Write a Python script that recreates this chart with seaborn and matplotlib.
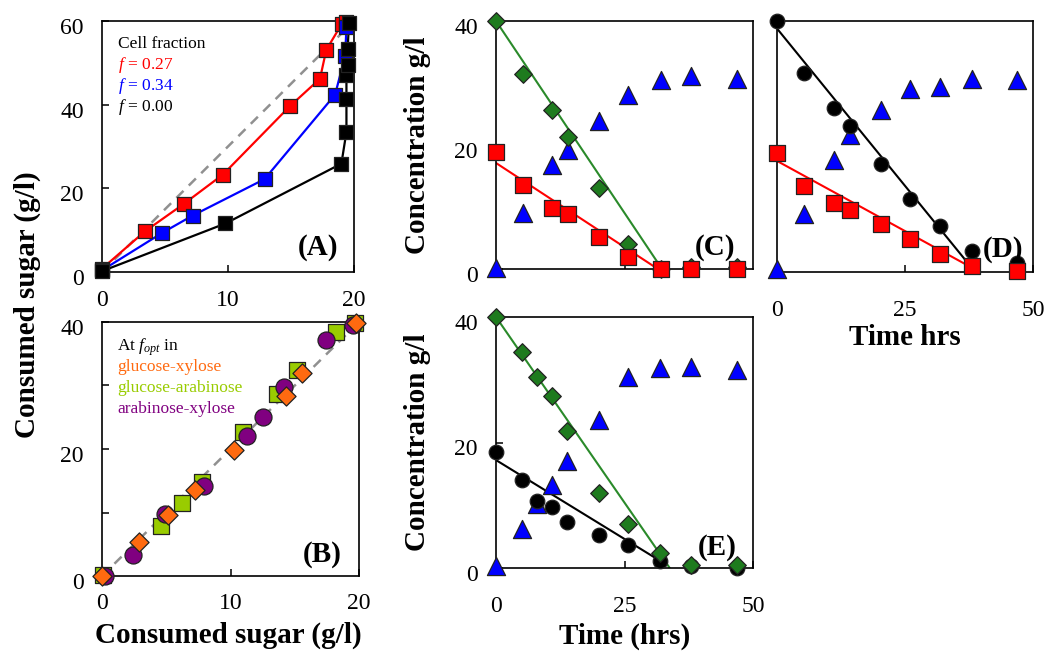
import pandas as pd
import matplotlib.pyplot as plt
import matplotlib.transforms as mtransforms
import seaborn as sns

# Panel A: consumed sugar at different cell fractions
a_red_x = [0, 3.4, 6.5, 9.6, 14.9, 17.3, 17.8, 19.05, 19.4]
a_red_y = [0.8, 9.7, 16.3, 23.3, 39.6, 46.2, 53.1, 59.4, 59.8]
a_blue_x = [0, 4.8, 7.2, 12.9, 18.5, 19.3, 19.4]
a_blue_y = [0.4, 9.4, 13.5, 22.2, 42.4, 51.7, 58.5]
a_black_x = [0, 9.8, 19.0, 19.4, 19.4, 19.4, 19.5, 19.5, 19.6]
a_black_y = [0.2, 11.6, 25.9, 33.5, 41.3, 47.0, 49.4, 53.4, 59.6]
a_diag_x = [0, 19]
a_diag_y = [0, 57]

# Panel B: at f_opt in the three sugar pairs
b_gx_x = [0, 2.9, 5.1, 7.2, 10.3, 14.3, 15.6, 19.8]
b_gx_y = [0, 5.4, 9.6, 13.5, 19.8, 28.3, 31.9, 39.8]
b_ga_x = [0.1, 4.6, 6.2, 7.8, 11.0, 13.6, 15.2, 18.2, 19.7]
b_ga_y = [0.1, 7.8, 11.5, 14.8, 22.7, 28.6, 32.5, 38.4, 39.8]
b_ax_x = [0.2, 2.4, 4.9, 7.9, 11.3, 12.5, 14.2, 17.4, 19.5]
b_ax_y = [0, 3.3, 9.7, 14.1, 22.1, 25.1, 29.7, 37.2, 39.6]
b_diag_x = [0, 20]
b_diag_y = [0, 40]

# Time courses (hrs)
t_c = [0, 5.2, 10.9, 14.0, 20.1, 25.6, 32.1, 38.0, 46.9]
c_green = [40, 31.5, 25.6, 21.3, 13.0, 4.0, 0, 0.4, 0.4]
c_red = [18.8, 13.5, 9.8, 8.9, 5.1, 1.9, 0, 0, 0]
c_blue = [0.2, 9.0, 16.7, 19.2, 23.9, 28.0, 30.5, 31.1, 30.7]
c_green_fit = ([0, 32.3], [40, 0])
c_red_fit = ([0, 31.5], [17.1, 0])

t_d = [0, 5.3, 11.1, 14.2, 20.3, 25.9, 31.9, 38.1, 46.8]
d_black = [40, 31.7, 26.2, 23.3, 17.2, 11.6, 7.3, 3.3, 1.4]
d_red = [18.9, 13.7, 11.0, 9.9, 7.7, 5.3, 2.9, 0.9, 0.1]
d_blue = [0.4, 9.2, 17.8, 21.8, 25.8, 29.2, 29.5, 30.7, 30.6]
d_black_fit = ([0, 37.5], [38.8, 1.2])
d_red_fit = ([0, 37.8], [17.7, 0.8])

t_e = [0, 5.1, 8.0, 10.8, 13.8, 20.1, 25.6, 32.0, 38.0, 46.9]
e_green = [40, 34.5, 30.4, 27.4, 21.8, 12.0, 7.0, 2.4, 0.4, 0.4]
e_black = [18.5, 14.0, 10.6, 9.7, 7.4, 5.3, 3.7, 1.1, 0.3, 0]
e_blue = [0.3, 6.2, 10.2, 13.3, 17.0, 23.6, 30.5, 31.8, 32.0, 31.6]
e_green_fit = ([0, 33.8], [40, 0])
e_black_fit = ([0, 32.6], [17.2, 0.8])

RED, BLUE, BLACK = "#FF0000", "#0000FF", "#000000"
GREEN, GREEN_LINE = "#1E7B1E", "#2A8A2A"
ORANGE, LIME, PURPLE = "#FF6A10", "#99CC00", "#800080"
EDGE = "#222222"

sns.set_style("ticks")
plt.rcParams["font.family"] = ["Liberation Serif", "DejaVu Serif"]
plt.rcParams["mathtext.fontset"] = "custom"
plt.rcParams["mathtext.rm"] = "Liberation Serif"
plt.rcParams["mathtext.it"] = "Liberation Serif:italic"
plt.rcParams["axes.linewidth"] = 1.2
plt.rcParams["text.color"] = "black"
plt.rcParams["axes.labelcolor"] = "black"
plt.rcParams["xtick.color"] = "black"
plt.rcParams["ytick.color"] = "black"

fig = plt.figure(figsize=(10.5, 6.62), dpi=100)
W, H = 1050, 662
shift_down = mtransforms.ScaledTranslation(0, -5 / 100, fig.dpi_scale_trans)


def make_ax(left, top, right, bottom):
    return fig.add_axes([left / W, 1 - bottom / H, (right - left) / W, (bottom - top) / H])


def style(ax, xpad=15):
    ax.tick_params(direction="in", length=5, width=1.1, labelsize=17, colors="black")
    ax.tick_params(axis="y", pad=13)
    ax.tick_params(axis="x", pad=xpad)
    for s in ax.spines.values():
        s.set_color("black")
        s.set_visible(True)
    for lab in ax.get_yticklabels():
        lab.set_transform(lab.get_transform() + shift_down)


def line(ax, x, y, color, lw=1.6, ls="-"):
    sns.lineplot(x=x, y=y, ax=ax, color=color, linewidth=lw, linestyle=ls,
                 estimator=None, sort=False, legend=False)


def pts(ax, x, y, color, marker, size, z=3):
    sns.scatterplot(x=x, y=y, ax=ax, color=color, marker=marker, s=size,
                    edgecolor=EDGE, linewidth=0.9, legend=False, zorder=z, clip_on=False)


# ---- Panel A
axA = make_ax(102, 21, 354, 272)
line(axA, a_diag_x, a_diag_y, "#909090", lw=1.8, ls=(0, (4, 3)))
line(axA, a_black_x, a_black_y, BLACK)
line(axA, a_blue_x, a_blue_y, BLUE)
line(axA, a_red_x, a_red_y, RED)
pts(axA, a_red_x, a_red_y, RED, "s", 95)
pts(axA, a_blue_x, a_blue_y, BLUE, "s", 95)
pts(axA, a_black_x, a_black_y, BLACK, "s", 95)
axA.set(xlim=(0, 20), ylim=(0, 60), xticks=[0, 10, 20], yticks=[0, 20, 40, 60])
style(axA, xpad=13)
axA.set_xlabel("")
axA.set_ylabel("")
axA.text(0.063, 0.908, "Cell fraction", transform=axA.transAxes, fontsize=12.5, va="center")
axA.text(0.063, 0.825, "$f$ = 0.27", transform=axA.transAxes, fontsize=12.5, va="center", color=RED)
axA.text(0.063, 0.741, "$f$ = 0.34", transform=axA.transAxes, fontsize=12.5, va="center", color=BLUE)
axA.text(0.063, 0.657, "$f$ = 0.00", transform=axA.transAxes, fontsize=12.5, va="center", color=BLACK)
axA.text(0.857, 0.096, "(A)", transform=axA.transAxes, fontsize=21, weight="bold", ha="center", va="center")

# ---- Panel B
axB = make_ax(102, 322, 359, 576)
line(axB, b_diag_x, b_diag_y, "#909090", lw=1.8, ls=(0, (4, 3)))
pts(axB, b_ga_x, b_ga_y, LIME, "s", 130)
pts(axB, b_ax_x, b_ax_y, PURPLE, "o", 150)
pts(axB, b_gx_x, b_gx_y, ORANGE, "D", 95)
axB.set(xlim=(0, 20), ylim=(0, 40), xticks=[0, 10, 20], yticks=[0, 20, 40])
axB.set_yticks([10, 30], minor=True)
style(axB, xpad=12)
axB.tick_params(which="minor", direction="in", length=5, width=1.1)
axB.set_xlabel("")
axB.set_ylabel("")
axB.text(0.058, 0.90, "At $f_{opt}$ in", transform=axB.transAxes, fontsize=12.5, va="center")
axB.text(0.058, 0.822, "glucose-xylose", transform=axB.transAxes, fontsize=12.5, va="center", color=ORANGE)
axB.text(0.058, 0.74, "glucose-arabinose", transform=axB.transAxes, fontsize=12.5, va="center", color=LIME)
axB.text(0.058, 0.657, "arabinose-xylose", transform=axB.transAxes, fontsize=12.5, va="center", color=PURPLE)
axB.text(0.856, 0.083, "(B)", transform=axB.transAxes, fontsize=21, weight="bold", ha="center", va="center")

fig.text(27 / W, 1 - 305 / H, "Consumed sugar (g/l)", rotation=90, fontsize=21,
         weight="bold", ha="center", va="center")
fig.text(228 / W, 1 - 635 / H, "Consumed sugar (g/l)", fontsize=21,
         weight="bold", ha="center", va="center")

# ---- Panel C
axC = make_ax(496, 21, 753, 269)
line(axC, *c_green_fit, GREEN_LINE, lw=1.5)
line(axC, *c_red_fit, RED, lw=1.5)
pts(axC, t_c, c_blue, BLUE, "^", 170)
pts(axC, t_c, c_green, GREEN, "D", 80)
pts(axC, t_c, c_red, RED, "s", 120)
axC.set(xlim=(0, 50), ylim=(0, 40), xticks=[25], yticks=[0, 20, 40])
style(axC)
axC.set_xticklabels([])
axC.set_xlabel("")
axC.set_ylabel("Concentration g/l", fontsize=21, weight="bold", labelpad=17)
axC.text(0.852, 0.085, "(C)", transform=axC.transAxes, fontsize=21, weight="bold", ha="center", va="center")

# ---- Panel D
axD = make_ax(777, 21, 1033, 272)
line(axD, *d_black_fit, BLACK, lw=1.5)
line(axD, *d_red_fit, RED, lw=1.5)
pts(axD, t_d, d_blue, BLUE, "^", 170)
pts(axD, t_d, d_black, BLACK, "o", 110)
pts(axD, t_d, d_red, RED, "s", 120)
axD.set(xlim=(0, 50), ylim=(0, 40), xticks=[0, 25, 50], yticks=[])
style(axD, xpad=20)
axD.set_xlabel("Time hrs", fontsize=21, weight="bold", labelpad=2)
axD.set_ylabel("")
axD.text(0.883, 0.088, "(D)", transform=axD.transAxes, fontsize=21, weight="bold", ha="center", va="center")

# ---- Panel E
axE = make_ax(496, 317, 753, 568)
line(axE, *e_green_fit, GREEN_LINE, lw=1.5)
line(axE, *e_black_fit, BLACK, lw=1.5)
pts(axE, t_e, e_blue, BLUE, "^", 170)
pts(axE, t_e, e_black, BLACK, "o", 110)
pts(axE, t_e, e_green, GREEN, "D", 80)
axE.set(xlim=(0, 50), ylim=(0, 40), xticks=[0, 25, 50], yticks=[0, 20, 40])
style(axE, xpad=20)
axE.set_xlabel("Time (hrs)", fontsize=21, weight="bold", labelpad=4)
axE.set_ylabel("Concentration g/l", fontsize=21, weight="bold", labelpad=17)
axE.text(0.86, 0.08, "(E)", transform=axE.transAxes, fontsize=21, weight="bold", ha="center", va="center")

fig.savefig("out.png", dpi=100)
